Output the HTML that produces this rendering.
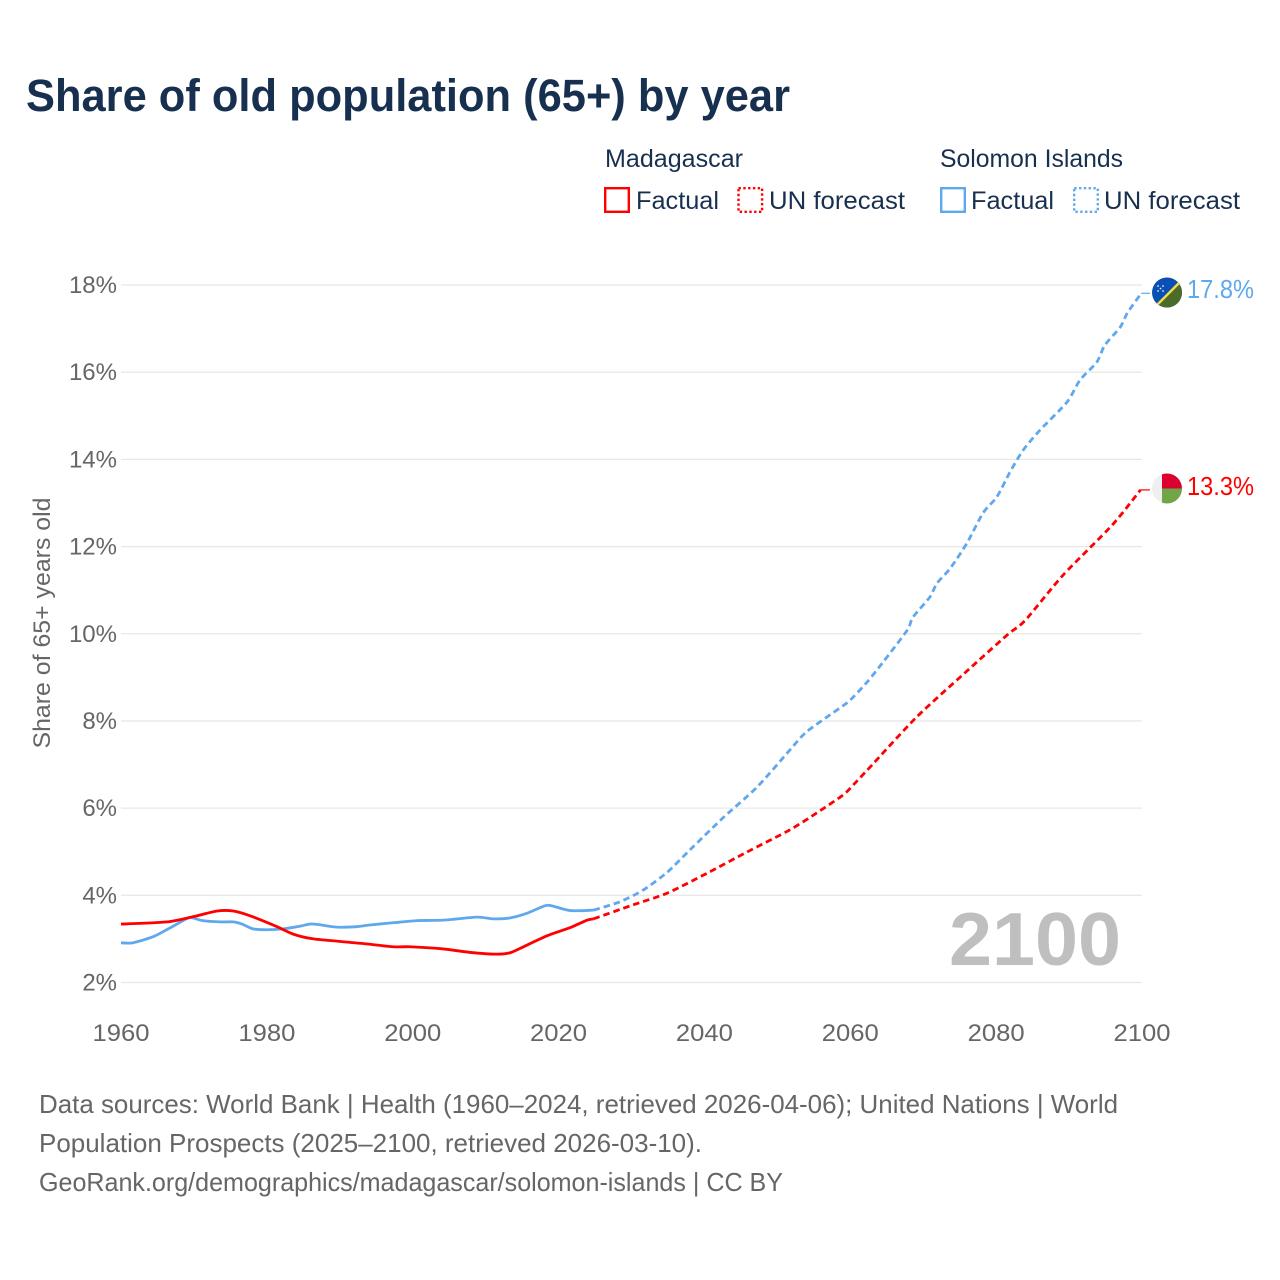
<!DOCTYPE html>
<html lang="en">
<head>
<meta charset="utf-8">
<title>Share of old population (65+) by year</title>
<style>
html,body{margin:0;padding:0;background:#fff;width:1280px;height:1280px;overflow:hidden}
svg{display:block}
text{font-family:"Liberation Sans",sans-serif}
</style>
</head>
<body>
<svg id="chart" xmlns="http://www.w3.org/2000/svg" width="1280" height="1280" viewBox="0 0 1280 1280">
  <rect width="1280" height="1280" fill="#fff"/>
  <text x="26" y="111" font-size="45" font-weight="700" fill="#18304f" textLength="764" lengthAdjust="spacingAndGlyphs">Share of old population (65+) by year</text>

  <g font-size="25" fill="#18304f">
    <text x="605" y="167" textLength="138" lengthAdjust="spacingAndGlyphs">Madagascar</text>
    <rect x="605.2" y="188.2" width="23.6" height="23.6" fill="none" stroke="#ff0000" stroke-width="2.4"/>
    <text x="636" y="209" textLength="83" lengthAdjust="spacingAndGlyphs">Factual</text>
    <rect x="738.5" y="188.2" width="23.6" height="23.6" fill="none" stroke="#ff0000" stroke-width="2.4" stroke-dasharray="2.4 2.4"/>
    <text x="769" y="209" textLength="136" lengthAdjust="spacingAndGlyphs">UN forecast</text>
    <text x="940" y="167" textLength="183" lengthAdjust="spacingAndGlyphs">Solomon Islands</text>
    <rect x="941.2" y="188.2" width="23.6" height="23.6" fill="none" stroke="#5fa8ee" stroke-width="2.4"/>
    <text x="971" y="209" textLength="83" lengthAdjust="spacingAndGlyphs">Factual</text>
    <rect x="1074.2" y="188.2" width="23.6" height="23.6" fill="none" stroke="#5fa8ee" stroke-width="2.4" stroke-dasharray="2.4 2.4"/>
    <text x="1104" y="209" textLength="136" lengthAdjust="spacingAndGlyphs">UN forecast</text>
  </g>

  <g id="grid"></g>
  <g id="yticks"></g>
  <g id="xticks"></g>
  <text transform="translate(50,623) rotate(-90)" text-anchor="middle" font-size="24" fill="#666" textLength="251" lengthAdjust="spacingAndGlyphs">Share of 65+ years old</text>
  <text x="949" y="965" font-size="75" font-weight="700" fill="#bfbfbf" textLength="172" lengthAdjust="spacingAndGlyphs">2100</text>
  <g id="series"></g>

  <defs>
    <clipPath id="clip-solomon"><circle cx="1167" cy="292.5" r="15"/></clipPath>
    <clipPath id="clip-madagascar"><circle cx="1167" cy="488.5" r="15"/></clipPath>
  </defs>
  <g clip-path="url(#clip-solomon)">
    <rect x="1152" y="277" width="30" height="31" fill="#0a50b4"/>
    <polygon points="1152,310 1184,278 1184,310" fill="#4a6b2a"/>
    <line x1="1153" y1="309" x2="1184" y2="278" stroke="#f6dc4a" stroke-width="2.4"/>
    <g fill="#dfe9f7">
      <circle cx="1158" cy="286" r="0.9"/><circle cx="1163" cy="286" r="0.9"/>
      <circle cx="1160.5" cy="288.5" r="0.9"/><circle cx="1158" cy="291" r="0.9"/><circle cx="1163" cy="291" r="0.9"/>
    </g>
  </g>
  <g clip-path="url(#clip-madagascar)">
    <rect x="1152" y="473" width="10" height="31" fill="#efefef"/>
    <rect x="1162" y="473" width="21" height="15.5" fill="#dc0030"/>
    <rect x="1162" y="488.5" width="21" height="16" fill="#70a548"/>
  </g>
  <text x="1187" y="298" font-size="26" fill="#5fa8ee" textLength="67" lengthAdjust="spacingAndGlyphs">17.8%</text>
  <text x="1187" y="495" font-size="26" fill="#ff0000" textLength="67" lengthAdjust="spacingAndGlyphs">13.3%</text>

  <g font-size="26" fill="#666">
    <text x="39" y="1113" textLength="1079" lengthAdjust="spacingAndGlyphs">Data sources: World Bank | Health (1960–2024, retrieved 2026-04-06); United Nations | World</text>
    <text x="39" y="1152" textLength="663" lengthAdjust="spacingAndGlyphs">Population Prospects (2025–2100, retrieved 2026-03-10).</text>
    <text x="39" y="1191" textLength="744" lengthAdjust="spacingAndGlyphs">GeoRank.org/demographics/madagascar/solomon-islands | CC BY</text>
  </g>
</svg>
<script>
const yTickValues = [2, 4, 6, 8, 10, 12, 14, 16, 18];
const xTickValues = [1960, 1980, 2000, 2020, 2040, 2060, 2080, 2100];

const madagascarFactualYears = [1960,1966.3,1969.9,1973.2,1975.4,1977.7,1981.4,1983.6,1986.4,1992.8,1997.3,1999.6,2004.2,2007.9,2011.5,2013.3,2014.7,2018.4,2021.6,2023.9,2024.8];
const madagascarFactualValues = [3.34,3.39,3.51,3.64,3.64,3.53,3.28,3.11,3.00,2.90,2.82,2.82,2.77,2.69,2.65,2.68,2.78,3.07,3.26,3.43,3.46];

const madagascarForecastYears = [2024.8,2030.2,2034.9,2040.4,2045.8,2051.7,2055.4,2059,2060.4,2062.7,2069.1,2075.7,2081.5,2084,2089.2,2095.9,2099.8];
const madagascarForecastValues = [3.46,3.78,4.05,4.51,4.99,5.50,5.89,6.30,6.53,6.94,8.09,9.10,9.97,10.31,11.35,12.49,13.30];

const solomonFactualYears = [1960,1961.6,1964.4,1966.7,1969.2,1969.9,1971.2,1973.6,1975.4,1976.6,1978.1,1980,1982.2,1984.5,1985.9,1987,1989.6,1992.3,1994.1,1997.3,2000.6,2004.2,2008.8,2011,2013.3,2015.7,2017.8,2018.8,2021.6,2024.8];
const solomonFactualValues = [2.91,2.91,3.05,3.25,3.48,3.48,3.42,3.39,3.39,3.34,3.23,3.21,3.23,3.29,3.34,3.33,3.27,3.28,3.32,3.37,3.42,3.43,3.50,3.46,3.48,3.59,3.74,3.77,3.65,3.66];

const solomonForecastYears = [2024.8,2028.4,2031.6,2034.9,2038,2042.5,2047.2,2051.7,2054,2058.6,2060,2062.3,2064.5,2067.8,2068.6,2070.9,2071.9,2073.7,2076,2078.2,2080.1,2081.9,2083.7,2086,2089.7,2091.5,2093.8,2094.9,2097,2098,2099.9];
const solomonForecastValues = [3.66,3.85,4.12,4.53,5.04,5.77,6.48,7.33,7.75,8.30,8.48,8.89,9.35,10.08,10.38,10.84,11.16,11.50,12.08,12.77,13.14,13.71,14.21,14.67,15.31,15.82,16.23,16.62,17.03,17.36,17.81];

const NS = 'http://www.w3.org/2000/svg';
const xScale = function (year) { return 121 + (year - 1960) * (1142 - 121) / 140; };
const yScale = function (value) { return 982.5 - (value - 2) * (982.5 - 285) / 16; };

const gridGroup = document.getElementById('grid');
const yTickGroup = document.getElementById('yticks');
const xTickGroup = document.getElementById('xticks');
const seriesGroup = document.getElementById('series');

yTickValues.forEach(function (value) {
  const line = document.createElementNS(NS, 'line');
  
  
  line.setAttribute('x1', 121);
  line.setAttribute('x2', 1142);
  line.setAttribute('y1', yScale(value));
  line.setAttribute('y2', yScale(value));
  line.setAttribute('stroke', '#e8e8e8');
  line.setAttribute('stroke-width', '1.3');
  gridGroup.appendChild(line);

  const label = document.createElementNS(NS, 'text');
  
  
  label.setAttribute('x', 117);
  label.setAttribute('y', yScale(value) + 8);
  label.setAttribute('text-anchor', 'end');
  label.setAttribute('font-size', '24');
  label.setAttribute('fill', '#666');
  label.textContent = value + '%';
  yTickGroup.appendChild(label);
});

xTickValues.forEach(function (year) {
  const label = document.createElementNS(NS, 'text');
  
  
  label.setAttribute('x', xScale(year));
  label.setAttribute('y', 1041);
  label.setAttribute('text-anchor', 'middle');
  label.setAttribute('font-size', '24');
  label.setAttribute('fill', '#666');
  label.setAttribute('textLength', '57');
  label.setAttribute('lengthAdjust', 'spacingAndGlyphs');
  label.textContent = year;
  xTickGroup.appendChild(label);
});

function toSmoothPath(years, values) {
  const pts = years.map(function (year, i) {
    return [xScale(year), yScale(values[i])];
  });
  let d = 'M' + pts[0][0].toFixed(2) + ' ' + pts[0][1].toFixed(2);
  for (let i = 0; i < pts.length - 1; i++) {
    const p0 = pts[Math.max(i - 1, 0)];
    const p1 = pts[i];
    const p2 = pts[i + 1];
    const p3 = pts[Math.min(i + 2, pts.length - 1)];
    const c1x = p1[0] + (p2[0] - p0[0]) / 8;
    const c1y = p1[1] + (p2[1] - p0[1]) / 8;
    const c2x = p2[0] - (p3[0] - p1[0]) / 8;
    const c2y = p2[1] - (p3[1] - p1[1]) / 8;
    d += 'C' + c1x.toFixed(2) + ' ' + c1y.toFixed(2) + ' ' + c2x.toFixed(2) + ' ' + c2y.toFixed(2) + ' ' + p2[0].toFixed(2) + ' ' + p2[1].toFixed(2);
  }
  return d;
}

function addSeries(name, years, values, color, dashed) {
  const line = document.createElementNS(NS, 'path');
  
  
  line.setAttribute('d', toSmoothPath(years, values));
  line.setAttribute('fill', 'none');
  line.setAttribute('stroke', color);
  line.setAttribute('stroke-width', '2.8');
  line.setAttribute('stroke-linejoin', 'round');
  if (dashed) {
    line.setAttribute('stroke-dasharray', '6.5 4');
  }
  seriesGroup.appendChild(line);
}

function addConnector(name, years, values, color) {
  const last = values.length - 1;
  const connector = document.createElementNS(NS, 'line');
  
  
  connector.setAttribute('x1', xScale(years[last]));
  connector.setAttribute('x2', 1150);
  connector.setAttribute('y1', yScale(values[last]));
  connector.setAttribute('y2', yScale(values[last]));
  connector.setAttribute('stroke', color);
  connector.setAttribute('stroke-width', '1.2');
  seriesGroup.appendChild(connector);
}

addSeries('solomon-factual-line', solomonFactualYears, solomonFactualValues, '#5fa8ee', false);
addSeries('madagascar-factual-line', madagascarFactualYears, madagascarFactualValues, '#ff0000', false);
addSeries('solomon-forecast-line', solomonForecastYears, solomonForecastValues, '#5fa8ee', true);
addSeries('madagascar-forecast-line', madagascarForecastYears, madagascarForecastValues, '#ff0000', true);
addConnector('solomon-label-connector', solomonForecastYears, solomonForecastValues, '#5fa8ee');
addConnector('madagascar-label-connector', madagascarForecastYears, madagascarForecastValues, '#ff0000');
</script>
</body>
</html>
